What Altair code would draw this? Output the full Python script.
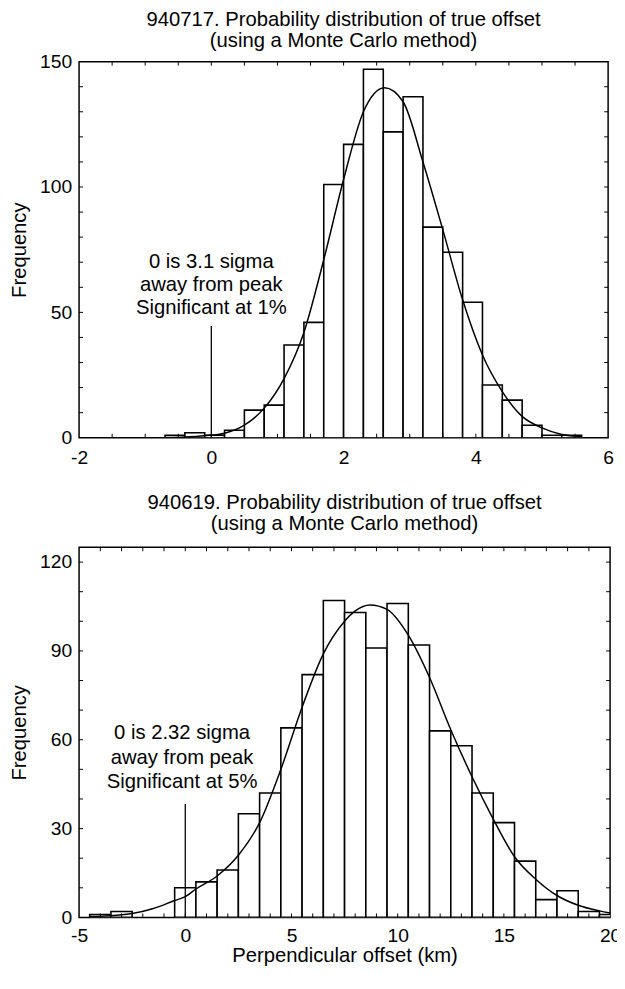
import altair as alt
import pandas as pd

FONT = "Liberation Sans"

# ---------------- Panel 1 : 940717 ----------------
top_title = ["940717. Probability distribution of true offset", "(using a Monte Carlo method)"]
top_bin_start = [-0.7, -0.4, -0.1, 0.2, 0.5, 0.8, 1.1, 1.4, 1.7, 2.0, 2.3,
                 2.6, 2.9, 3.2, 3.5, 3.8, 4.1, 4.4, 4.7, 5.0, 5.3]
top_bin_end = [-0.4, -0.1, 0.2, 0.5, 0.8, 1.1, 1.4, 1.7, 2.0, 2.3, 2.6,
               2.9, 3.2, 3.5, 3.8, 4.1, 4.4, 4.7, 5.0, 5.3, 5.6]
top_counts = [1, 2, 1, 3, 11, 13, 37, 46, 101, 117, 147,
              122, 136, 84, 74, 54, 21, 15, 5, 1, 1]
top_curve_x = [-0.7, -0.4, -0.1, 0.2, 0.5, 0.8, 1.1, 1.4, 1.7, 2.0, 2.3, 2.62,
               2.9, 3.2, 3.5, 3.8, 4.1, 4.4, 4.7, 5.0, 5.3, 5.6]
top_curve_y = [0.1, 0.3, 0.8, 1.8, 5.0, 11.8, 23.6, 42.0, 71.0, 103.0, 130.0, 139.6,
               134.0, 110.0, 83.0, 55.0, 33.0, 18.4, 8.5, 3.9, 1.3, 0.5]
top_note = ["0 is 3.1 sigma", "away from peak", "Significant at 1%"]
top_note_pos = [0.0, 67.6]
top_marker = [0.0, 0.0, 44.6]          # x, y from, y to
top_xlabels = [-2, 0, 2, 4, 6]
top_ylabels = [0, 50, 100, 150]
top_xminor = [-1.5, -1, -0.5, 0, 0.5, 1, 1.5, 2, 2.5, 3, 3.5, 4, 4.5, 5, 5.5]
top_yminor = [10, 20, 30, 40, 50, 60, 70, 80, 90, 100, 110, 120, 130, 140]

# ---------------- Panel 2 : 940619 ----------------
bot_title = ["940619. Probability distribution of true offset", "(using a Monte Carlo method)"]
bot_bin_start = [-4.5, -3.5, -0.5, 0.5, 1.5, 2.5, 3.5, 4.5, 5.5, 6.5, 7.5, 8.5,
                 9.5, 10.5, 11.5, 12.5, 13.5, 14.5, 15.5, 16.5, 17.5, 18.5, 19.5]
bot_bin_end = [-3.5, -2.5, 0.5, 1.5, 2.5, 3.5, 4.5, 5.5, 6.5, 7.5, 8.5, 9.5,
               10.5, 11.5, 12.5, 13.5, 14.5, 15.5, 16.5, 17.5, 18.5, 19.5, 20.5]
bot_counts = [1, 2, 10, 12, 16, 35, 42, 64, 82, 107, 103, 91,
              106, 92, 63, 58, 42, 32, 19, 6, 9, 2, 1]
bot_curve_x = [-4.5, -3.5, -2.5, -1.5, -0.5, 0.0, 0.5, 1.5, 2.5, 3.5, 4.5, 5.5, 6.5,
               7.5, 8.0, 8.7, 9.5, 10.5, 11.5, 12.5, 13.5, 14.5, 15.5, 16.5, 17.5,
               18.5, 19.5, 20.0]
bot_curve_y = [0.3, 0.6, 1.3, 3.0, 5.7, 7.0, 9.6, 14.0, 21.0, 32.0, 50.0, 71.0, 89.0,
               100.0, 103.5, 105.5, 104.0, 95.3, 81.0, 63.4, 47.5, 33.2, 20.5, 12.9, 7.4,
               4.1, 2.2, 1.5]
bot_note = ["0 is 2.32 sigma", "away from peak", "Significant at 5%"]
bot_note_pos = [-0.15, 60.1]
bot_marker = [0.0, 0.0, 38.3]
bot_xlabels = [-5, 0, 5, 10, 15, 20]
bot_ylabels = [0, 30, 60, 90, 120]
bot_xminor = [-4, -3, -2, -1, 0, 1, 2, 3, 4, 5, 6, 7, 8, 9, 10, 11, 12,
              13, 14, 15, 16, 17, 18, 19]
bot_yminor = [10, 20, 30, 40, 50, 60, 70, 80, 90, 100, 110, 120]


def panel(title, bstart, bend, counts, cx, cy, note, note_pos, marker,
          xdom, ydom, xlabels, ylabels, xminor, yminor, W, H, xtitle,
          xlabpad, xtitlepad, note_lh, title_offset):
    def X(field):
        return alt.X(field, type="quantitative",
                     scale=alt.Scale(domain=xdom, nice=False, zero=False),
                     axis=alt.Axis(values=xlabels, labelExpr="datum.value + ''",
                                   labelPadding=xlabpad, titlePadding=xtitlepad,
                                   labelFlush=False),
                     title=xtitle)

    def Y(field):
        return alt.Y(field, type="quantitative",
                     scale=alt.Scale(domain=ydom, nice=False),
                     axis=alt.Axis(values=ylabels, labelExpr="datum.value + ''",
                                   labelPadding=7.5, titlePadding=10,
                                   labelFlush=False),
                     title="Frequency")

    bars_df = pd.DataFrame({"x0": bstart, "x1": bend, "count": counts})
    curve_df = pd.DataFrame({"x": cx, "y": cy})
    note_df = pd.DataFrame({"x": [note_pos[0]], "y": [note_pos[1]]})
    marker_df = pd.DataFrame({"x": [marker[0]], "y0": [marker[1]], "y1": [marker[2]]})
    xt_df = pd.DataFrame({"v": xminor})
    yt_df = pd.DataFrame({"v": yminor})

    bars = alt.Chart(bars_df).mark_bar(fill="white", stroke="black",
                                       strokeWidth=1.6, clip=True).encode(
        x=X("x0"), x2="x1", y=Y("count"), y2=alt.datum(0))
    curve = alt.Chart(curve_df).mark_line(color="black", strokeWidth=1.5,
                                          interpolate="monotone", clip=True).encode(
        x=X("x"), y=Y("y"))
    mark = alt.Chart(marker_df).mark_rule(color="black", strokeWidth=1.3).encode(
        x=X("x"), y=Y("y0"), y2="y1")
    text = alt.Chart(note_df).mark_text(text=note, font=FONT, fontSize=20.5,
                                        lineHeight=note_lh, align="center",
                                        baseline="alphabetic", color="black").encode(
        x=X("x"), y=Y("y"))
    tb = alt.Chart(xt_df).mark_rule(color="black", strokeWidth=1).encode(
        x=X("v"), y=alt.value(H), y2=alt.value(H - 4))
    tt = alt.Chart(xt_df).mark_rule(color="black", strokeWidth=1).encode(
        x=X("v"), y=alt.value(0), y2=alt.value(4))
    tl = alt.Chart(yt_df).mark_rule(color="black", strokeWidth=1).encode(
        y=Y("v"), x=alt.value(0), x2=alt.value(4))
    tr = alt.Chart(yt_df).mark_rule(color="black", strokeWidth=1).encode(
        y=Y("v"), x=alt.value(W), x2=alt.value(W - 4))

    return alt.layer(bars, curve, mark, text, tb, tt, tl, tr).properties(
        width=W, height=H,
        title=alt.TitleParams(text=title[0], subtitle=title[1], font=FONT, fontSize=20.5,
                              fontWeight="normal", color="black",
                              subtitleFont=FONT, subtitleFontSize=20.5,
                              subtitleColor="black", subtitleFontWeight="normal",
                              subtitlePadding=0.5,
                              offset=title_offset, anchor="middle", frame="group"))


top = panel(top_title, top_bin_start, top_bin_end, top_counts, top_curve_x, top_curve_y,
            top_note, top_note_pos, top_marker, [-2, 6], [0, 150], top_xlabels,
            top_ylabels, top_xminor, top_yminor, 536, 381, None, 11, 2, 23.3, 0.5)
bot = panel(bot_title, bot_bin_start, bot_bin_end, bot_counts, bot_curve_x, bot_curve_y,
            bot_note, bot_note_pos, bot_marker, [-5, 20], [0, 125], bot_xlabels,
            bot_ylabels, bot_xminor, bot_yminor, 538, 375, "Perpendicular offset (km)",
            9.5, 1, 24.5, 12.5)

chart = alt.vconcat(top, bot, spacing=24).properties(
    autosize=alt.AutoSizeParams(type="none"),
    padding={"left": 72, "top": 48, "right": 545, "bottom": 920},
    background="white",
).configure_view(stroke="black", strokeWidth=1.5).configure_axis(
    grid=False, domain=False, ticks=False,
    labelFont=FONT, labelFontSize=19.5, labelColor="black",
    titleFont=FONT, titleFontSize=20.5, titleFontWeight="normal", titleColor="black",
).configure_title(font=FONT, fontSize=20.5, fontWeight="normal", color="black")

chart.save("out.html", embed_options={"renderer": "svg", "actions": False})
